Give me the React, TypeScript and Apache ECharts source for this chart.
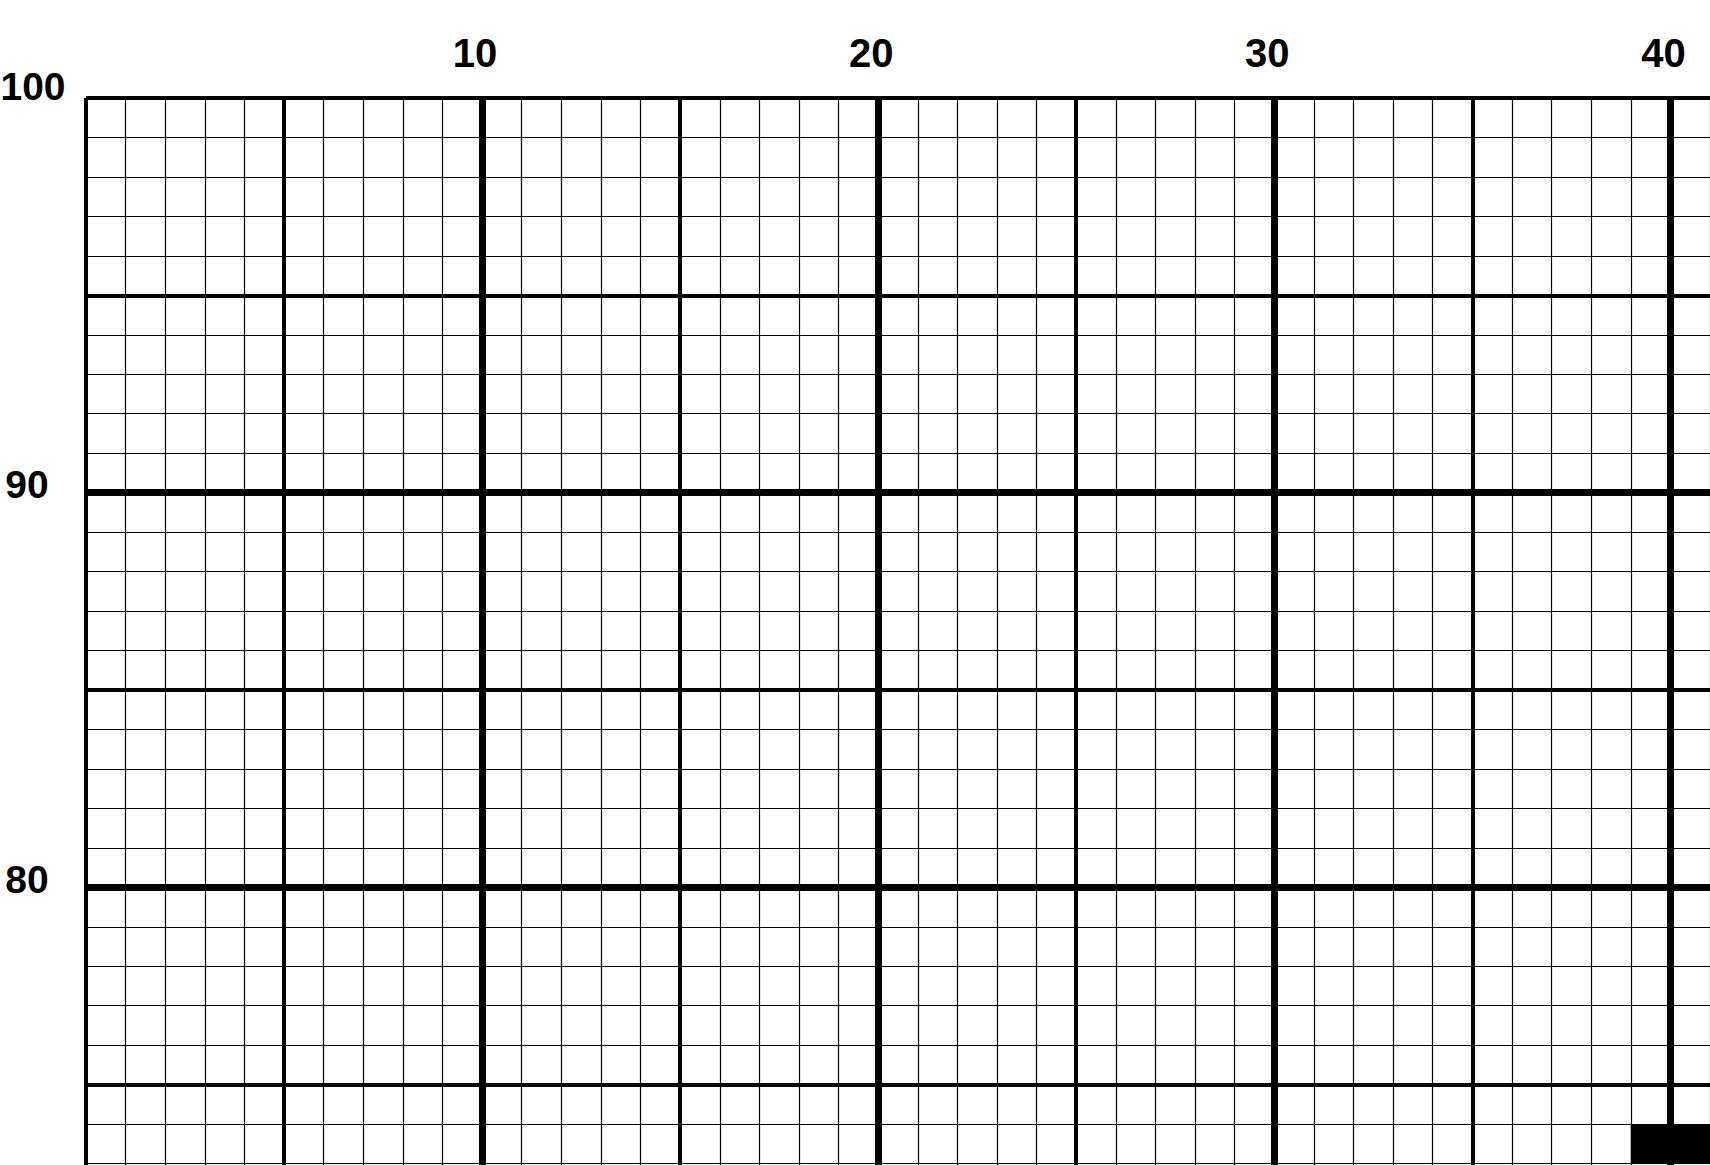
import React, { useEffect, useRef } from 'react';
import * as echarts from 'echarts';

// pattern grid extent (y runs below the visible page edge so ticks start on a multiple of 10)
const xMin = 0;
const xMax = 41;
const yMin = 70;
const yMax = 100;

const xTickLabels = [10, 20, 30, 40];
const yTickLabels = [80, 90, 100];

// filled stitches, as [column, row] of each cell's lower-left corner
const filledCells = [
  [39, 73],
  [40, 73]
];

const labelFont = '"Liberation Sans", Arial, sans-serif';

const App: React.FC = () => {
  const chartRef = useRef<HTMLDivElement>(null);

  useEffect(() => {
    if (!chartRef.current) return;
    const chart = echarts.init(chartRef.current, undefined, { renderer: 'svg' });

    const lineStyle = (width: number) => ({ color: '#000', width });
    const hidden = {
      axisLine: { show: false },
      axisTick: { show: false },
      axisLabel: { show: false }
    };
    const sideText = { fontFamily: labelFont, fontWeight: 'bold', fontSize: 39, color: '#000' };

    const option: any = {
      animation: false,
      backgroundColor: '#fff',
      grid: {
        left: 86,
        top: 98,
        right: 0,
        bottom: 18,
        containLabel: false,
        outerBoundsMode: 'none'
      },
      xAxis: [
        {
          type: 'value', min: xMin, max: xMax, interval: 1, position: 'bottom', z: 0,
          ...hidden,
          splitLine: { show: true, lineStyle: lineStyle(1.2) }
        },
        {
          type: 'value', min: xMin, max: xMax, interval: 5, position: 'bottom', z: 1,
          ...hidden,
          splitLine: { show: true, showMinLine: true, showMaxLine: false, lineStyle: lineStyle(4) }
        },
        {
          type: 'value', min: xMin, max: xMax, interval: 10, position: 'top', z: 2,
          axisLine: { show: false },
          axisTick: { show: false },
          splitLine: { show: true, showMinLine: false, showMaxLine: false, lineStyle: lineStyle(7) },
          axisLabel: {
            show: true,
            margin: 45,
            align: 'center',
            verticalAlign: 'middle',
            padding: [0, 14, 0, 0],
            color: '#000',
            fontFamily: labelFont,
            fontWeight: 'bold',
            fontSize: 40,
            formatter: (v: number) => (xTickLabels.includes(v) ? String(v) : '')
          }
        }
      ],
      yAxis: [
        {
          type: 'value', min: yMin, max: yMax, interval: 1, position: 'right', z: 0,
          ...hidden,
          splitLine: { show: true, lineStyle: lineStyle(1.2) }
        },
        {
          type: 'value', min: yMin, max: yMax, interval: 5, position: 'right', z: 1,
          ...hidden,
          splitLine: { show: true, showMinLine: false, showMaxLine: true, lineStyle: lineStyle(4) }
        },
        {
          type: 'value', min: yMin, max: yMax, interval: 10, position: 'left', z: 2,
          axisLine: { show: false },
          axisTick: { show: false },
          splitLine: { show: true, showMinLine: false, showMaxLine: false, lineStyle: lineStyle(7) },
          axisLabel: {
            show: true,
            margin: 59,
            align: 'center',
            verticalAlign: 'middle',
            formatter: (v: number) => {
              if (!yTickLabels.includes(v)) return '';
              return v === yMax ? `{top|${v}}` : `{n|${v}}`;
            },
            rich: {
              n: { ...sideText, padding: [0, 0, 16, 0] },
              top: { ...sideText, padding: [0, 0, 23, 12] }
            }
          }
        }
      ],
      series: [
        {
          type: 'custom',
          xAxisIndex: 0,
          yAxisIndex: 0,
          z: 10,
          silent: true,
          clip: false,
          data: filledCells,
          renderItem: (params: any, api: any) => {
            const topLeft = api.coord([api.value(0), api.value(1) + 1]);
            const size = api.size([1, 1]);
            return {
              type: 'rect',
              shape: { x: topLeft[0], y: topLeft[1], width: size[0], height: size[1] },
              style: { fill: '#000' }
            };
          }
        }
      ]
    };

    chart.setOption(option);

    return () => {
      chart.dispose();
    };
  }, []);

  return (
    <div
      ref={chartRef}
      style={{ position: 'fixed', left: 0, top: 0, width: '1710px', height: '1300px', background: '#fff' }}
    />
  );
};

export default App;
